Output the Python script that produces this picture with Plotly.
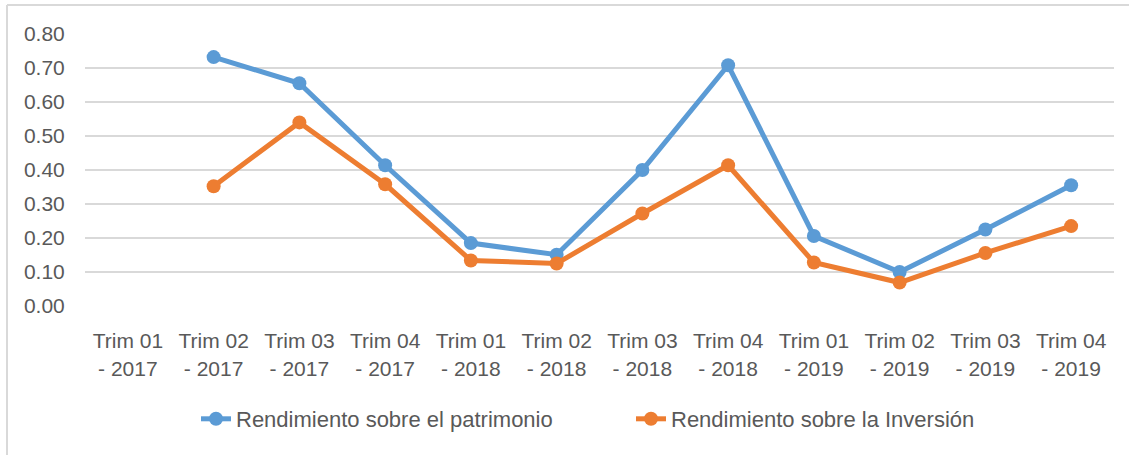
import plotly.graph_objects as go

categories = ["Trim 01<br>- 2017", "Trim 02<br>- 2017", "Trim 03<br>- 2017", "Trim 04<br>- 2017",
              "Trim 01<br>- 2018", "Trim 02<br>- 2018", "Trim 03<br>- 2018", "Trim 04<br>- 2018",
              "Trim 01<br>- 2019", "Trim 02<br>- 2019", "Trim 03<br>- 2019", "Trim 04<br>- 2019"]
patrimonio = [None, 0.732, 0.655, 0.414, 0.185, 0.151, 0.400, 0.708, 0.206, 0.100, 0.225, 0.355]
inversion = [None, 0.352, 0.540, 0.358, 0.134, 0.125, 0.272, 0.414, 0.128, 0.069, 0.156, 0.235]
y_ticks = [0.0, 0.1, 0.2, 0.3, 0.4, 0.5, 0.6, 0.7, 0.8]

BLUE = "#5B9BD5"
ORANGE = "#ED7D31"
TXT = "#595959"
GRID = "#D9D9D9"

fig = go.Figure()
fig.add_trace(go.Scatter(x=categories, y=patrimonio, mode="lines+markers",
                         name="Rendimiento sobre el patrimonio", legend="legend",
                         line=dict(color=BLUE, width=5), marker=dict(color=BLUE, size=14)))
fig.add_trace(go.Scatter(x=categories, y=inversion, mode="lines+markers",
                         name="Rendimiento sobre la Inversión", legend="legend2",
                         line=dict(color=ORANGE, width=5), marker=dict(color=ORANGE, size=14)))

W, H = 1129, 455
ml, mr, mt, mb = 85, 15, 34, 149
pw = W - ml - mr
ph = H - mt - mb

def px_x(x):
    return (x - ml) / pw

def px_y(y):
    return (H - mb - y) / ph

leg_common = dict(orientation="h", xanchor="left", yanchor="middle", y=px_y(419),
                  font=dict(size=22, color=TXT), bgcolor="rgba(0,0,0,0)")

fig.update_layout(
    width=W, height=H,
    margin=dict(l=ml, r=mr, t=mt, b=mb, autoexpand=False),
    paper_bgcolor="white", plot_bgcolor="white",
    font=dict(family="Liberation Sans, Arial, sans-serif", size=21, color=TXT),
    showlegend=True,
    legend=dict(x=px_x(196), **leg_common),
    legend2=dict(x=px_x(631), **leg_common),
    xaxis=dict(type="category", showgrid=False, zeroline=False, showline=False,
               ticks="outside", ticklen=16, tickcolor="rgba(0,0,0,0)",
               tickfont=dict(size=21, color=TXT), range=[-0.5, 11.5]),
    yaxis=dict(range=[0, 0.8], tickvals=y_ticks, tickformat=".2f",
               showgrid=True, gridcolor=GRID, gridwidth=1.5, zeroline=False, showline=False,
               ticks="outside", ticklen=15, tickcolor="rgba(0,0,0,0)",
               tickfont=dict(size=21, color=TXT)),
    shapes=[
        dict(type="line", xref="paper", yref="paper", x0=px_x(7), x1=px_x(1129), y0=px_y(5), y1=px_y(5),
             line=dict(color=GRID, width=2)),
        dict(type="line", xref="paper", yref="paper", x0=px_x(7), x1=px_x(7), y0=px_y(5), y1=px_y(455),
             line=dict(color=GRID, width=2)),
    ],
)

fig.write_html("out.html", config={"displayModeBar": False},
               post_script="document.body.style.margin='0';")
